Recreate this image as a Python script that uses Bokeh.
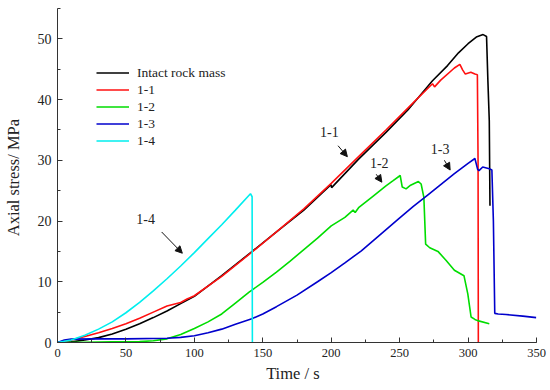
from bokeh.plotting import figure
from bokeh.models import Range1d, Legend, LegendItem, Arrow, NormalHead, Label, SingleIntervalTicker
from bokeh.embed import file_html
from bokeh.resources import INLINE

# ---- data ----
intact_t = [0, 10, 20, 30, 40, 50, 60, 70, 80, 90, 100, 120, 140, 160, 180, 199.8, 200.3,
            220, 240, 256, 274, 285, 293, 300, 306, 311, 313.5, 314.5, 315.5, 316]
intact_y = [0, 0.1, 0.4, 0.8, 1.4, 2.2, 3.1, 4.1, 5.2, 6.4, 7.6, 11.0, 14.6, 18.2, 21.8, 26.0, 25.5,
            30.2, 34.6, 38.3, 43.1, 45.6, 47.7, 49.2, 50.3, 50.7, 50.4, 43.0, 36.5, 22.5]

s11_t = [0, 10, 20, 30, 40, 50, 60, 70, 78, 80, 90, 95, 96, 100, 120, 140, 160, 180, 200,
         220, 240, 260, 274, 275.5, 280, 290, 294, 296, 298, 302, 305, 306.8, 307.3, 307.5]
s11_y = [0, 0.4, 1.0, 1.6, 2.3, 3.1, 4.0, 5.0, 5.8, 6.0, 6.6, 7.2, 7.3, 7.7, 10.9, 14.5, 18.2, 22.0, 26.2,
         30.6, 35.0, 39.5, 42.6, 42.1, 43.2, 45.2, 45.8, 44.9, 44.2, 44.5, 44.2, 44.1, 30.0, 0]

s12_t = [0, 20, 40, 60, 70, 80, 90, 100, 110, 120, 130, 140, 150, 160, 170, 180, 190, 200,
         210, 216, 217.5, 220, 230, 240, 245, 250.4, 251.9, 254.7, 258, 263.7, 265.7, 267.7,
         269.0, 272, 278, 284, 290, 297, 299.8, 302.2, 305, 307, 315.5]
s12_y = [0, 0.05, 0.1, 0.15, 0.3, 0.6, 1.3, 2.3, 3.4, 4.7, 6.5, 8.3, 9.9, 11.6, 13.4, 15.3, 17.2, 19.2,
         20.6, 21.8, 21.4, 22.2, 24.0, 25.8, 26.6, 27.5, 25.6, 25.3, 25.9, 26.5, 26.1, 23.9,
         16.2, 15.6, 15.0, 13.5, 11.9, 11.0, 8.0, 4.2, 3.8, 3.6, 3.1]

s13_t = [0, 5, 10, 30, 50, 80, 90, 100, 110, 120, 130, 142, 150, 160, 175, 190, 200, 210, 222,
         235, 249, 260, 270, 280, 290, 300, 305, 307, 308, 310.7, 315.5, 317.4, 318.5, 319.5,
         322, 327.7, 340, 349.8]
s13_y = [0, 0.4, 0.55, 0.6, 0.6, 0.7, 0.85, 1.1, 1.6, 2.2, 3.0, 3.9, 4.7, 5.9, 7.8, 10.0, 11.5, 13.1, 15.1,
         17.6, 20.3, 22.4, 24.2, 26.0, 27.8, 29.5, 30.3, 28.5, 28.3, 28.9, 28.6, 28.4, 20.0, 4.8,
         4.7, 4.6, 4.35, 4.1]

s14_t = [0, 10, 20, 30, 40, 50, 60, 70, 80, 90, 100, 110, 120, 130, 141, 142.2, 142.4]
s14_y = [0, 0.4, 1.2, 2.2, 3.4, 4.9, 6.6, 8.5, 10.5, 12.6, 14.8, 17.1, 19.4, 21.8, 24.5, 24.0, 0]

series_names = ["Intact rock mass", "1-1", "1-2", "1-3", "1-4"]
series_colors = ["#000000", "#ff1010", "#00dd00", "#0000cc", "#00eeee"]

# annotation labels: text, label position, arrow start, arrow end (data units)
ann_text = ["1-1", "1-2", "1-3", "1-4"]
ann_lx = [198.6, 235.1, 279.6, 64.4]
ann_ly = [34.6, 29.6, 31.8, 20.3]
ann_ax0 = [205.0, 232.9, 282.7, 76.1]
ann_ay0 = [32.4, 27.7, 30.0, 18.2]
ann_ax1 = [211.8, 237.0, 286.9, 91.2]
ann_ay1 = [30.6, 26.4, 28.4, 14.7]

FONT = "Liberation Serif"
TXT = "#222222"

p = figure(width=550, height=390, output_backend="svg", toolbar_location=None,
           x_range=Range1d(0, 350), y_range=Range1d(0, 55),
           min_border_left=56, min_border_right=14, min_border_top=8, min_border_bottom=48)
p.outline_line_color = None
p.xgrid.visible = False
p.ygrid.visible = False
p.background_fill_color = "white"

renderers = []
for t, y, c in zip([intact_t, s11_t, s12_t, s13_t, s14_t],
                   [intact_y, s11_y, s12_y, s13_y, s14_y], series_colors):
    r = p.line(t, y, line_color=c, line_width=1.6)
    renderers.append(r)

legend = Legend(items=[LegendItem(label=n, renderers=[r]) for n, r in zip(series_names, renderers)],
                location=(39, 193), orientation="vertical")
legend.label_text_font = FONT
legend.label_text_font_size = "13.5px"
legend.label_text_color = TXT
legend.glyph_width = 33
legend.glyph_height = 17
legend.label_height = 17
legend.spacing = 0
legend.padding = 0
legend.margin = 0
legend.label_standoff = 8
legend.border_line_color = None
legend.background_fill_alpha = 0
p.add_layout(legend, "center")

for i in range(len(ann_text)):
    p.add_layout(Label(x=ann_lx[i], y=ann_ly[i], text=ann_text[i], text_font=FONT,
                       text_font_size="14px", text_color=TXT, text_align="center",
                       text_baseline="middle"))
    p.add_layout(Arrow(x_start=ann_ax0[i], y_start=ann_ay0[i], x_end=ann_ax1[i], y_end=ann_ay1[i],
                       line_width=1, line_color="#111111",
                       end=NormalHead(size=7, fill_color="#111111", line_color="#111111")))

p.xaxis.ticker = SingleIntervalTicker(interval=50, num_minor_ticks=2)
p.yaxis.ticker = SingleIntervalTicker(interval=10, num_minor_ticks=2)

for ax in (p.xaxis[0], p.yaxis[0]):
    ax.major_tick_in = 5
    ax.major_tick_out = 0
    ax.minor_tick_in = 3
    ax.minor_tick_out = 0
    ax.axis_line_color = "#333333"
    ax.major_tick_line_color = "#333333"
    ax.minor_tick_line_color = "#333333"
    ax.major_label_text_font = FONT
    ax.major_label_text_color = TXT
    ax.axis_label_text_font = FONT
    ax.axis_label_text_font_size = "16.5px"
    ax.axis_label_text_font_style = "normal"
    ax.axis_label_text_color = TXT

p.xaxis.major_label_text_font_size = "12.5px"
p.yaxis.major_label_text_font_size = "14px"
p.xaxis.axis_label = "Time  /  s"
p.yaxis.axis_label = "Axial stress/  MPa"
p.xaxis.major_label_standoff = 6
p.yaxis.major_label_standoff = 6
p.xaxis.axis_label_standoff = 4
p.yaxis.axis_label_standoff = 12

open("out.html", "w").write(file_html(p, INLINE))
